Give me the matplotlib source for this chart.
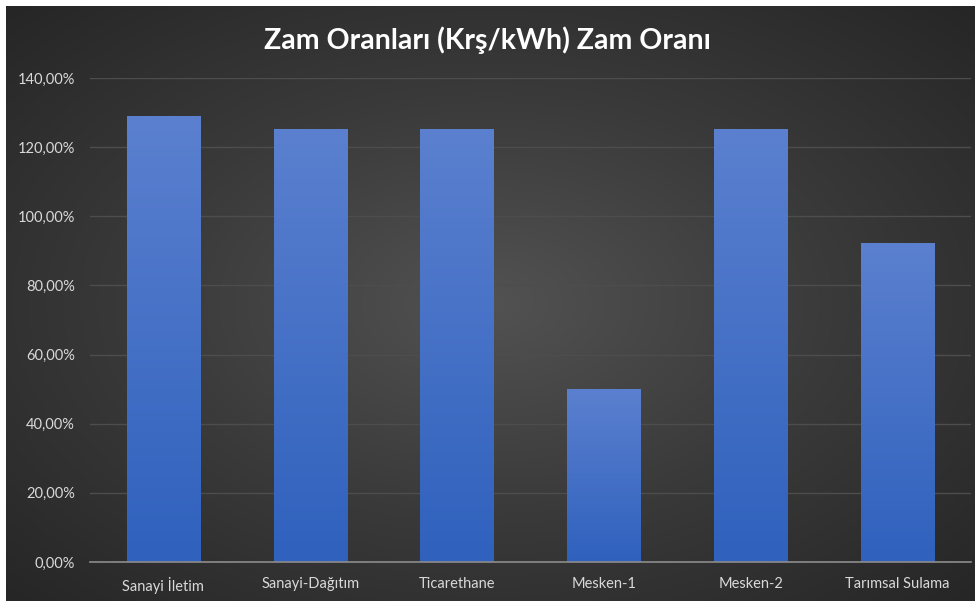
import matplotlib.pyplot as plt
import numpy as np
from matplotlib.colors import LinearSegmentedColormap

# veriler
kategoriler = ['Sanayi İletim', 'Sanayi-Dağıtım', 'Ticarethane', 'Mesken-1', 'Mesken-2', 'Tarımsal Sulama']
zam_orani = [129, 125, 125, 50, 125, 92]  # yüzde
yticks = [0, 20, 40, 60, 80, 100, 120, 140]

plt.rcParams['font.family'] = ['Lato', 'DejaVu Sans']

fig = plt.figure(figsize=(9.75, 6.01), dpi=100, facecolor='white')

# arka plan: koyu radyal gradyan
bg = fig.add_axes([6 / 975, 0, 969 / 975, 595 / 601])
yy, xx = np.mgrid[-1:1:300j, -1:1:500j]
r = np.sqrt(xx ** 2 + yy ** 2) / np.sqrt(2)
bg_cmap = LinearSegmentedColormap.from_list('bg', ['#525252', '#3a3a3a', '#262626'])
bg.imshow(r, cmap=bg_cmap, aspect='auto', extent=[0, 1, 0, 1], vmin=0, vmax=1)
bg.axis('off')

ax = fig.add_axes([90 / 975, (601 - 562) / 601, 881 / 975, (562 - 78) / 601])
ax.patch.set_alpha(0)

pos = np.arange(len(kategoriler))
bars = ax.bar(pos, zam_orani, width=0.5, color='none', zorder=2)

# çubuklarda dikey gradyan
bar_cmap = LinearSegmentedColormap.from_list('bar', ['#2f61bd', '#5b80cf'])
grad = np.linspace(0, 1, 256).reshape(-1, 1)
for b in bars:
    x0, w, h = b.get_x(), b.get_width(), b.get_height()
    ax.imshow(grad, cmap=bar_cmap, origin='lower', aspect='auto',
              extent=[x0, x0 + w, 0, h], zorder=3)

ax.set_xlim(-0.5, len(kategoriler) - 0.5)
ax.set_ylim(0, 140)
ax.set_yticks(yticks)
ax.set_yticklabels([f'{v},00%' for v in yticks])
ax.set_xticks(pos)
ax.set_xticklabels(kategoriler)
ax.tick_params(colors='#d9d9d9', labelsize=10.5, length=0)
ax.tick_params(axis='x', pad=11)
ax.tick_params(axis='y', pad=11)

ax.grid(axis='y', color='#4d4d4d', linewidth=1, zorder=1)
for s in ['top', 'right', 'left']:
    ax.spines[s].set_visible(False)
ax.spines['bottom'].set_color('#8c8c8c')
ax.spines['bottom'].set_linewidth(1.2)
ax.spines['bottom'].set_zorder(4)

fig.text(0.5, 1 - 40 / 601, 'Zam Oranları (Krş/kWh) Zam Oranı', color='white',
         fontsize=20.5, fontweight='bold', ha='center', va='center')

fig.savefig('out.png', dpi=100, facecolor='white')
